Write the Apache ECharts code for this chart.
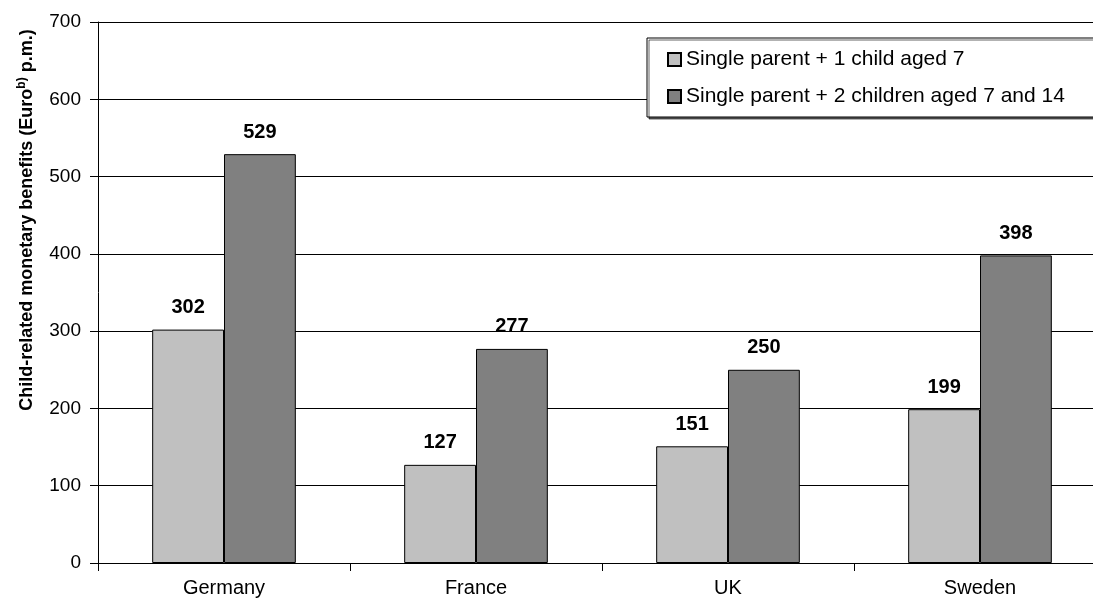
<!DOCTYPE html>
<html><head><meta charset="utf-8">
<script src="https://cdn.jsdelivr.net/npm/echarts@6/dist/echarts.min.js"></script>
<style>html,body{margin:0;padding:0;background:#fff;overflow:hidden}#c{width:1106px;height:600px}</style>
</head><body><div id="c"></div>
<script>
const categories = ['Germany', 'France', 'UK', 'Sweden'];
const seriesNames = ['Single parent + 1 child aged 7', 'Single parent + 2 children aged 7 and 14'];
const oneChild = [302, 127, 151, 199];
const twoChildren = [529, 277, 250, 398];
const yTicks = [0, 100, 200, 300, 400, 500, 600, 700];

const font = 'Liberation Sans, Arial, sans-serif';
const chart = echarts.init(document.getElementById('c'));
const labelCfg = {show: true, position: 'top', distance: 12, fontFamily: font, fontSize: 20, fontWeight: 'bold', color: '#000'};
chart.setOption({
  animation: false,
  backgroundColor: '#fff',
  grid: {left: 98, right: 0, top: 22, bottom: 37, containLabel: false},
  xAxis: {
    type: 'category', data: categories,
    axisLine: {lineStyle: {color: '#000', width: 1}},
    axisTick: {show: true, length: 8, inside: false, lineStyle: {color: '#000'}},
    axisLabel: {fontFamily: font, fontSize: 20, color: '#000', margin: 15}
  },
  yAxis: {
    type: 'value', min: yTicks[0], max: yTicks[yTicks.length - 1], interval: 100,
    axisLine: {show: true, lineStyle: {color: '#000', width: 1}},
    axisTick: {show: true, length: 8, lineStyle: {color: '#000'}},
    axisLabel: {fontFamily: font, fontSize: 19, color: '#000', margin: 17},
    splitLine: {show: true, lineStyle: {color: '#000', width: 1}}
  },
  legend: {
    orient: 'vertical', left: 647, top: 38,
    padding: [11, 60, 10, 20], itemGap: 16, itemWidth: 13, itemHeight: 13,
    backgroundColor: '#fff', borderColor: '#000', borderWidth: 1,
    shadowColor: 'rgba(0,0,0,0.6)', shadowOffsetX: 2, shadowOffsetY: 2, shadowBlur: 0,
    icon: 'rect',
    textStyle: {fontFamily: font, fontSize: 21, color: '#000', padding: [0, 0, 0, 0]},
    data: seriesNames
  },
  graphic: [{
    type: 'text', x: 27, y: 220,
    rotation: Math.PI / 2,
    style: {
      text: '{a|Child-related monetary benefits (Euro}{s|b)}{a| p.m.)}',
      align: 'center', verticalAlign: 'middle',
      rich: {
        a: {fontFamily: font, fontSize: 18, fontWeight: 'bold', color: '#000'},
        s: {fontFamily: font, fontSize: 12, fontWeight: 'bold', color: '#000', padding: [0, 0, 10, 0]}
      }
    }
  }],
  series: [
    {name: seriesNames[0], type: 'bar', data: oneChild, barGap: '0%', barCategoryGap: '43%',
     itemStyle: {color: '#C0C0C0', borderColor: '#000', borderWidth: 1}, label: labelCfg},
    {name: seriesNames[1], type: 'bar', data: twoChildren,
     itemStyle: {color: '#808080', borderColor: '#000', borderWidth: 1}, label: labelCfg}
  ]
});
</script></body></html>
